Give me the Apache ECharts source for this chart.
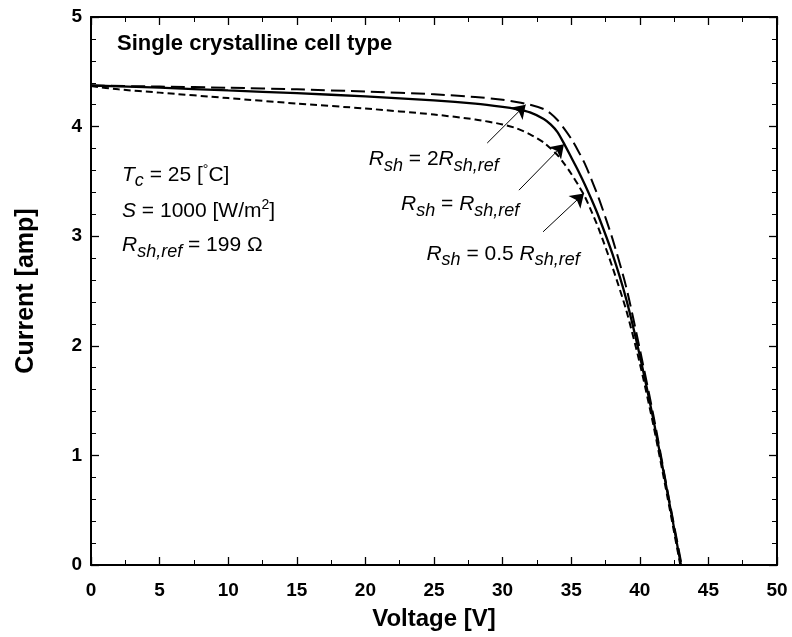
<!DOCTYPE html>
<html>
<head>
<meta charset="utf-8">
<script src="https://cdn.jsdelivr.net/npm/echarts@6/dist/echarts.min.js"></script>
<style>
  html, body { margin: 0; padding: 0; background: #ffffff; }
  #chart { width: 792px; height: 637px; }
</style>
</head>
<body>
<div id="chart"></div>
<script>
// I–V curves of a single crystalline cell for three shunt resistances
const voltsHigh = [0, 5, 10, 15, 20, 25, 28, 30, 31, 32, 33, 33.5, 34, 34.5, 35, 35.5, 36, 36.5, 37, 38, 39, 40, 41, 42, 43.05];
const ampsHigh  = [4.375, 4.365, 4.355, 4.34, 4.32, 4.295, 4.27, 4.245, 4.225, 4.20, 4.16, 4.12, 4.06, 3.98, 3.89, 3.78, 3.66, 3.51, 3.35, 2.98, 2.54, 1.97, 1.36, 0.69, 0];

const voltsRef = [0, 5, 10, 15, 20, 25, 28, 30, 31, 32, 33, 33.5, 34, 34.5, 35, 35.5, 36, 36.5, 37, 38, 39, 40, 41, 42, 43.0];
const ampsRef  = [4.375, 4.355, 4.33, 4.305, 4.275, 4.24, 4.21, 4.18, 4.16, 4.13, 4.07, 4.02, 3.95, 3.84, 3.72, 3.60, 3.47, 3.33, 3.18, 2.84, 2.43, 1.91, 1.32, 0.67, 0];

const voltsLow = [0, 2, 5, 10, 15, 20, 25, 28, 30, 31, 32, 33, 33.5, 34, 34.5, 35, 35.5, 36, 36.5, 37, 38, 39, 40, 41, 42, 42.95];
const ampsLow  = [4.37, 4.34, 4.31, 4.26, 4.21, 4.165, 4.11, 4.065, 4.02, 3.985, 3.93, 3.855, 3.80, 3.74, 3.66, 3.57, 3.47, 3.36, 3.22, 3.07, 2.72, 2.33, 1.84, 1.27, 0.63, 0];

// Arrow pointers [tail, head] in (V, A)
const arrowHigh = [[28.88, 3.85], [31.68, 4.20]];
const arrowRef  = [[31.19, 3.42], [34.47, 3.84]];
const arrowLow  = [[32.95, 3.04], [35.93, 3.39]];

const FONT = '"Liberation Sans", Arial, Helvetica, sans-serif';

function pairs(xs, ys) { return xs.map((x, i) => [x, ys[i]]); }

function arrowLine(pts) {
  return {
    silent: true,
    animation: false,
    symbol: ['none', 'arrow'],
    symbolSize: 13,
    label: { show: false },
    lineStyle: { color: '#000', width: 1, type: 'solid' },
    itemStyle: { color: '#000' },
    emphasis: { disabled: true },
    data: [[{ coord: pts[0] }, { coord: pts[1] }]]
  };
}

const frameAxis = {
  axisLine: { show: true, onZero: false, lineStyle: { color: '#000', width: 2 } },
  axisTick: { show: true, inside: true, length: 8, lineStyle: { color: '#000', width: 1.3 } },
  splitLine: { show: false }
};

const chart = echarts.init(document.getElementById('chart'), null, { renderer: 'canvas' });

chart.setOption({
  animation: false,
  backgroundColor: '#ffffff',
  grid: { left: 91, right: 15, top: 17, bottom: 72 },
  xAxis: [
    Object.assign({}, frameAxis, {
      type: 'value', min: 0, max: 50, interval: 5, position: 'bottom',
      minorTick: { show: true, splitNumber: 2, length: 5, lineStyle: { color: '#000', width: 1 } },
      axisLabel: { color: '#000', fontSize: 19, fontWeight: 'bold', fontFamily: FONT, margin: 16 },
      name: 'Voltage [V]', nameLocation: 'middle', nameGap: 42,
      nameTextStyle: { color: '#000', fontSize: 24, fontWeight: 'bold', fontFamily: FONT }
    }),
    Object.assign({}, frameAxis, {
      type: 'value', min: 0, max: 50, interval: 5, position: 'top',
      minorTick: { show: true, splitNumber: 2, length: 5, lineStyle: { color: '#000', width: 1 } },
      axisLabel: { show: false }
    })
  ],
  yAxis: [
    Object.assign({}, frameAxis, {
      type: 'value', min: 0, max: 5, interval: 1, position: 'left',
      minorTick: { show: true, splitNumber: 5, length: 5, lineStyle: { color: '#000', width: 1 } },
      axisLabel: { color: '#000', fontSize: 19, fontWeight: 'bold', fontFamily: FONT, margin: 9 },
      name: 'Current [amp]', nameLocation: 'middle', nameGap: 52, nameRotate: 90,
      nameTextStyle: { color: '#000', fontSize: 25, fontWeight: 'bold', fontFamily: FONT }
    }),
    Object.assign({}, frameAxis, {
      type: 'value', min: 0, max: 5, interval: 1, position: 'right',
      minorTick: { show: true, splitNumber: 5, length: 5, lineStyle: { color: '#000', width: 1 } },
      axisLabel: { show: false }
    })
  ],
  series: [
    {
      name: 'Rsh = 2Rsh,ref', type: 'line', data: pairs(voltsHigh, ampsHigh),
      showSymbol: false, smooth: 0.25,
      lineStyle: { color: '#000', width: 2, type: [14, 6] },
      markLine: arrowLine(arrowHigh)
    },
    {
      name: 'Rsh = Rsh,ref', type: 'line', data: pairs(voltsRef, ampsRef),
      showSymbol: false, smooth: 0.25,
      lineStyle: { color: '#000', width: 2.3, type: 'solid' },
      markLine: arrowLine(arrowRef)
    },
    {
      name: 'Rsh = 0.5 Rsh,ref', type: 'line', data: pairs(voltsLow, ampsLow),
      showSymbol: false, smooth: 0.25,
      lineStyle: { color: '#000', width: 2, type: [7, 4] },
      markLine: arrowLine(arrowLow)
    }
  ]
});

// Annotation text built from runs (italic / subscript / superscript)
const measureCtx = document.createElement('canvas').getContext('2d');
function runFont(r) {
  return (r.italic ? 'italic ' : 'normal ') + (r.bold ? 'bold ' : 'normal ') + r.size + 'px ' + FONT;
}
function textRuns(anchor, runs) {
  const base = chart.convertToPixel({ gridIndex: 0 }, anchor);
  let x = base[0];
  const children = [];
  runs.forEach(r => {
    measureCtx.font = runFont(r);
    const w = measureCtx.measureText(r.text).width;
    children.push({
      type: 'text', x: x, y: base[1] + (r.dy || 0) - 0.36 * r.size,
      silent: true,
      style: {
        text: r.text, fill: '#000', fontFamily: FONT, fontSize: r.size,
        fontStyle: r.italic ? 'italic' : 'normal', fontWeight: r.bold ? 'bold' : 'normal',
        verticalAlign: 'middle', align: 'left'
      }
    });
    x += w;
  });
  return { type: 'group', children: children };
}

const M = 21, SUB = 18, SUP = 14;
const notes = [
  { at: [1.9, 4.685], runs: [{ text: 'Single crystalline cell type', size: 22, bold: true }] },
  { at: [2.26, 3.49], runs: [
    { text: 'T', size: M, italic: true }, { text: 'c', size: SUB, italic: true, dy: 5 },
    { text: ' = 25 [', size: M }, { text: '°', size: SUP, dy: -7 }, { text: 'C]', size: M } ] },
  { at: [2.26, 3.16], runs: [
    { text: 'S', size: M, italic: true }, { text: ' = 1000 [W/m', size: M },
    { text: '2', size: SUP, dy: -8 }, { text: ']', size: M } ] },
  { at: [2.26, 2.845], runs: [
    { text: 'R', size: M, italic: true }, { text: 'sh,ref', size: SUB, italic: true, dy: 5 },
    { text: ' = 199 Ω', size: M } ] },
  { at: [20.25, 3.63], runs: [
    { text: 'R', size: M, italic: true }, { text: 'sh', size: SUB, italic: true, dy: 5 },
    { text: ' = 2', size: M }, { text: 'R', size: M, italic: true },
    { text: 'sh,ref', size: SUB, italic: true, dy: 5 } ] },
  { at: [22.6, 3.22], runs: [
    { text: 'R', size: M, italic: true }, { text: 'sh', size: SUB, italic: true, dy: 5 },
    { text: ' = ', size: M }, { text: 'R', size: M, italic: true },
    { text: 'sh,ref', size: SUB, italic: true, dy: 5 } ] },
  { at: [24.45, 2.77], runs: [
    { text: 'R', size: M, italic: true }, { text: 'sh', size: SUB, italic: true, dy: 5 },
    { text: ' = 0.5 ', size: M }, { text: 'R', size: M, italic: true },
    { text: 'sh,ref', size: SUB, italic: true, dy: 5 } ] }
];

chart.setOption({ graphic: notes.map(n => textRuns(n.at, n.runs)) });
</script>
</body>
</html>
